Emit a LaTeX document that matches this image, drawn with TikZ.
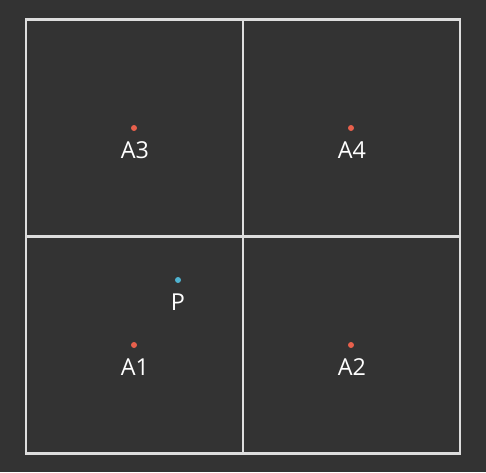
\documentclass[tikz,border=0pt]{standalone}
\usepackage{fontspec}
\setmainfont{Open Sans}
\definecolor{bg}{HTML}{333333}
\definecolor{ln}{HTML}{DDDDDD}
\definecolor{rd}{HTML}{E8604C}
\definecolor{bl}{HTML}{4FB3D0}
\tikzset{
  gridline/.style={draw=ln, line width=1.6pt},
  reddot/.style={circle, fill=rd, inner sep=0pt, minimum size=4.5pt},
  bluedot/.style={circle, fill=bl, inner sep=0pt, minimum size=4.5pt},
  lab/.style={text=white, font=\fontsize{17.5}{19}\selectfont, inner sep=0pt}
}
\begin{document}
\begin{tikzpicture}[x=0.75pt,y=-0.75pt]
\fill[bg] (0,0) rectangle (486,472);
\useasboundingbox (0,0) rectangle (486,472);
\coordinate (tl) at (26,19.5);
\coordinate (br) at (460,453.5);
\coordinate (tm) at (243,19.5);
\coordinate (bm) at (243,453.5);
\coordinate (lm) at (26,236.5);
\coordinate (rm) at (460,236.5);
\draw[gridline] (tl) rectangle (br);
\draw[gridline] (tm) -- (bm);
\draw[gridline] (lm) -- (rm);
\node[reddot] (a3) at (134,128) {};
\node[reddot] (a4) at (351,128) {};
\node[reddot] (a1) at (134,345) {};
\node[reddot] (a2) at (351,345) {};
\node[bluedot] (p) at (178,280) {};
\node[lab] (la3) at (135,150.5) {A3};
\node[lab] (la4) at (352,150.5) {A4};
\node[lab] (la1) at (135,367.5) {A1};
\node[lab] (la2) at (352,367.5) {A2};
\node[lab] (lp) at (178,302.5) {P};
\end{tikzpicture}
\end{document}
